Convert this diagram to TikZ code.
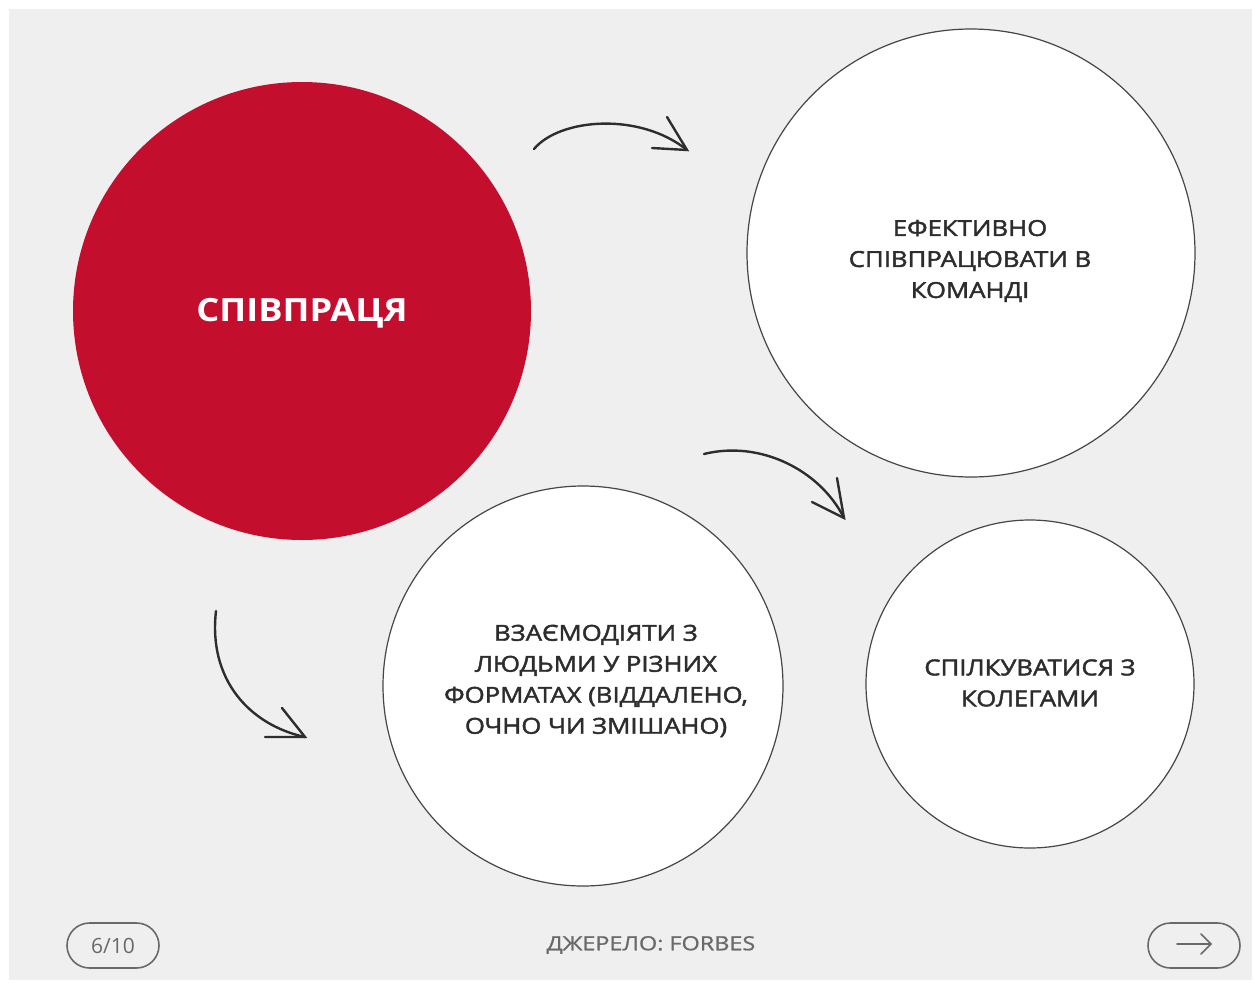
\documentclass[tikz,border=0pt]{standalone}
\usepackage{fontspec}
\setmainfont{Open Sans}
\newfontfamily\medfont{Open Sans}[FakeBold=2, FakeStretch=1.17]
\newfontfamily\footfont{Open Sans}[FakeBold=1, FakeStretch=1.2]
\newfontfamily\headfont{Open Sans}[FakeStretch=1.13]
\definecolor{bgc}{RGB}{239,239,239}
\definecolor{redc}{RGB}{196,14,46}
\definecolor{inkc}{RGB}{45,45,45}
\definecolor{linec}{RGB}{70,70,70}
\definecolor{greyc}{RGB}{105,105,105}
\tikzset{
  outlined/.style={circle, draw=linec, line width=1.2pt, fill=white, inner sep=0pt},
  bodytext/.style={align=center, text=inkc, font=\medfont\fontsize{22}{31}\selectfont},
  curvearrow/.style={draw=inkc, line width=2.4pt, line cap=round},
  pill/.style={draw=greyc, line width=1.6pt, rounded corners=22.5pt, minimum height=45pt, inner sep=0pt},
}
\begin{document}
\begin{tikzpicture}[x=1pt,y=-1pt]
\useasboundingbox (0,0) rectangle (1254,983);
\fill[white] (0,0) rectangle (1254,983);
\fill[bgc] (9,9) rectangle (1252,980);

% circles
\node[circle, fill=redc, minimum size=458pt, inner sep=0pt] (red) at (302,311) {};
\node[outlined, minimum size=448pt] (top) at (971,253) {};
\node[outlined, minimum size=400pt] (mid) at (583,686) {};
\node[outlined, minimum size=328pt] (small) at (1030,684) {};

% texts
\node[text=white, font=\headfont\bfseries\fontsize{32}{38}\selectfont] (redtxt) at (302,313) {СПІВПРАЦЯ};
\node[bodytext] (toptxt) at (970,261) {ЕФЕКТИВНО\\СПІВПРАЦЮВАТИ В\\КОМАНДІ};
\node[bodytext] (midtxt) at (596,681) {ВЗАЄМОДІЯТИ З\\ЛЮДЬМИ У РІЗНИХ\\ФОРМАТАХ (ВІДДАЛЕНО,\\ОЧНО ЧИ ЗМІШАНО)};
\node[bodytext] (smalltxt) at (1030,683) {СПІЛКУВАТИСЯ З\\КОЛЕГАМИ};

% arrows
\coordinate (a1s) at (534,149);
\coordinate (a1t) at (687,150);
\coordinate (a1b1) at (667,117);
\coordinate (a1b2) at (652,148);
\draw[curvearrow] (a1s) .. controls (560,118) and (640,112) .. (a1t);
\draw[curvearrow] (a1b1) -- (a1t) -- (a1b2);

\coordinate (a2s) at (704,454);
\coordinate (a2t) at (844,518);
\coordinate (a2b1) at (837,478);
\coordinate (a2b2) at (812,502);
\draw[curvearrow] (a2s) .. controls (760,440) and (820,470) .. (a2t);
\draw[curvearrow] (a2b1) -- (a2t) -- (a2b2);

\coordinate (a3s) at (216,611);
\coordinate (a3t) at (305,737);
\coordinate (a3b1) at (282,708);
\coordinate (a3b2) at (265,737);
\draw[curvearrow] (a3s) .. controls (208,680) and (250,725) .. (a3t);
\draw[curvearrow] (a3b1) -- (a3t) -- (a3b2);

% footer
\node[pill, minimum width=92pt, text=greyc, font=\fontsize{21}{24}\selectfont] (page) at (113,945.5) {6/10};
\node[text=greyc, font=\footfont\fontsize{19.5}{22}\selectfont] (source) at (651,945) {ДЖЕРЕЛО: FORBES};
\node[pill, minimum width=92pt] (next) at (1194,945.5) {};
\coordinate (n1) at (1177,944);
\coordinate (n2) at (1211,944);
\coordinate (n3) at (1201,934);
\coordinate (n4) at (1201,954);
\draw[draw=greyc, line width=1.6pt, line cap=round, line join=round] (n1) -- (n2);
\draw[draw=greyc, line width=1.6pt, line cap=round, line join=round] (n3) -- (n2) -- (n4);
\end{tikzpicture}
\end{document}
